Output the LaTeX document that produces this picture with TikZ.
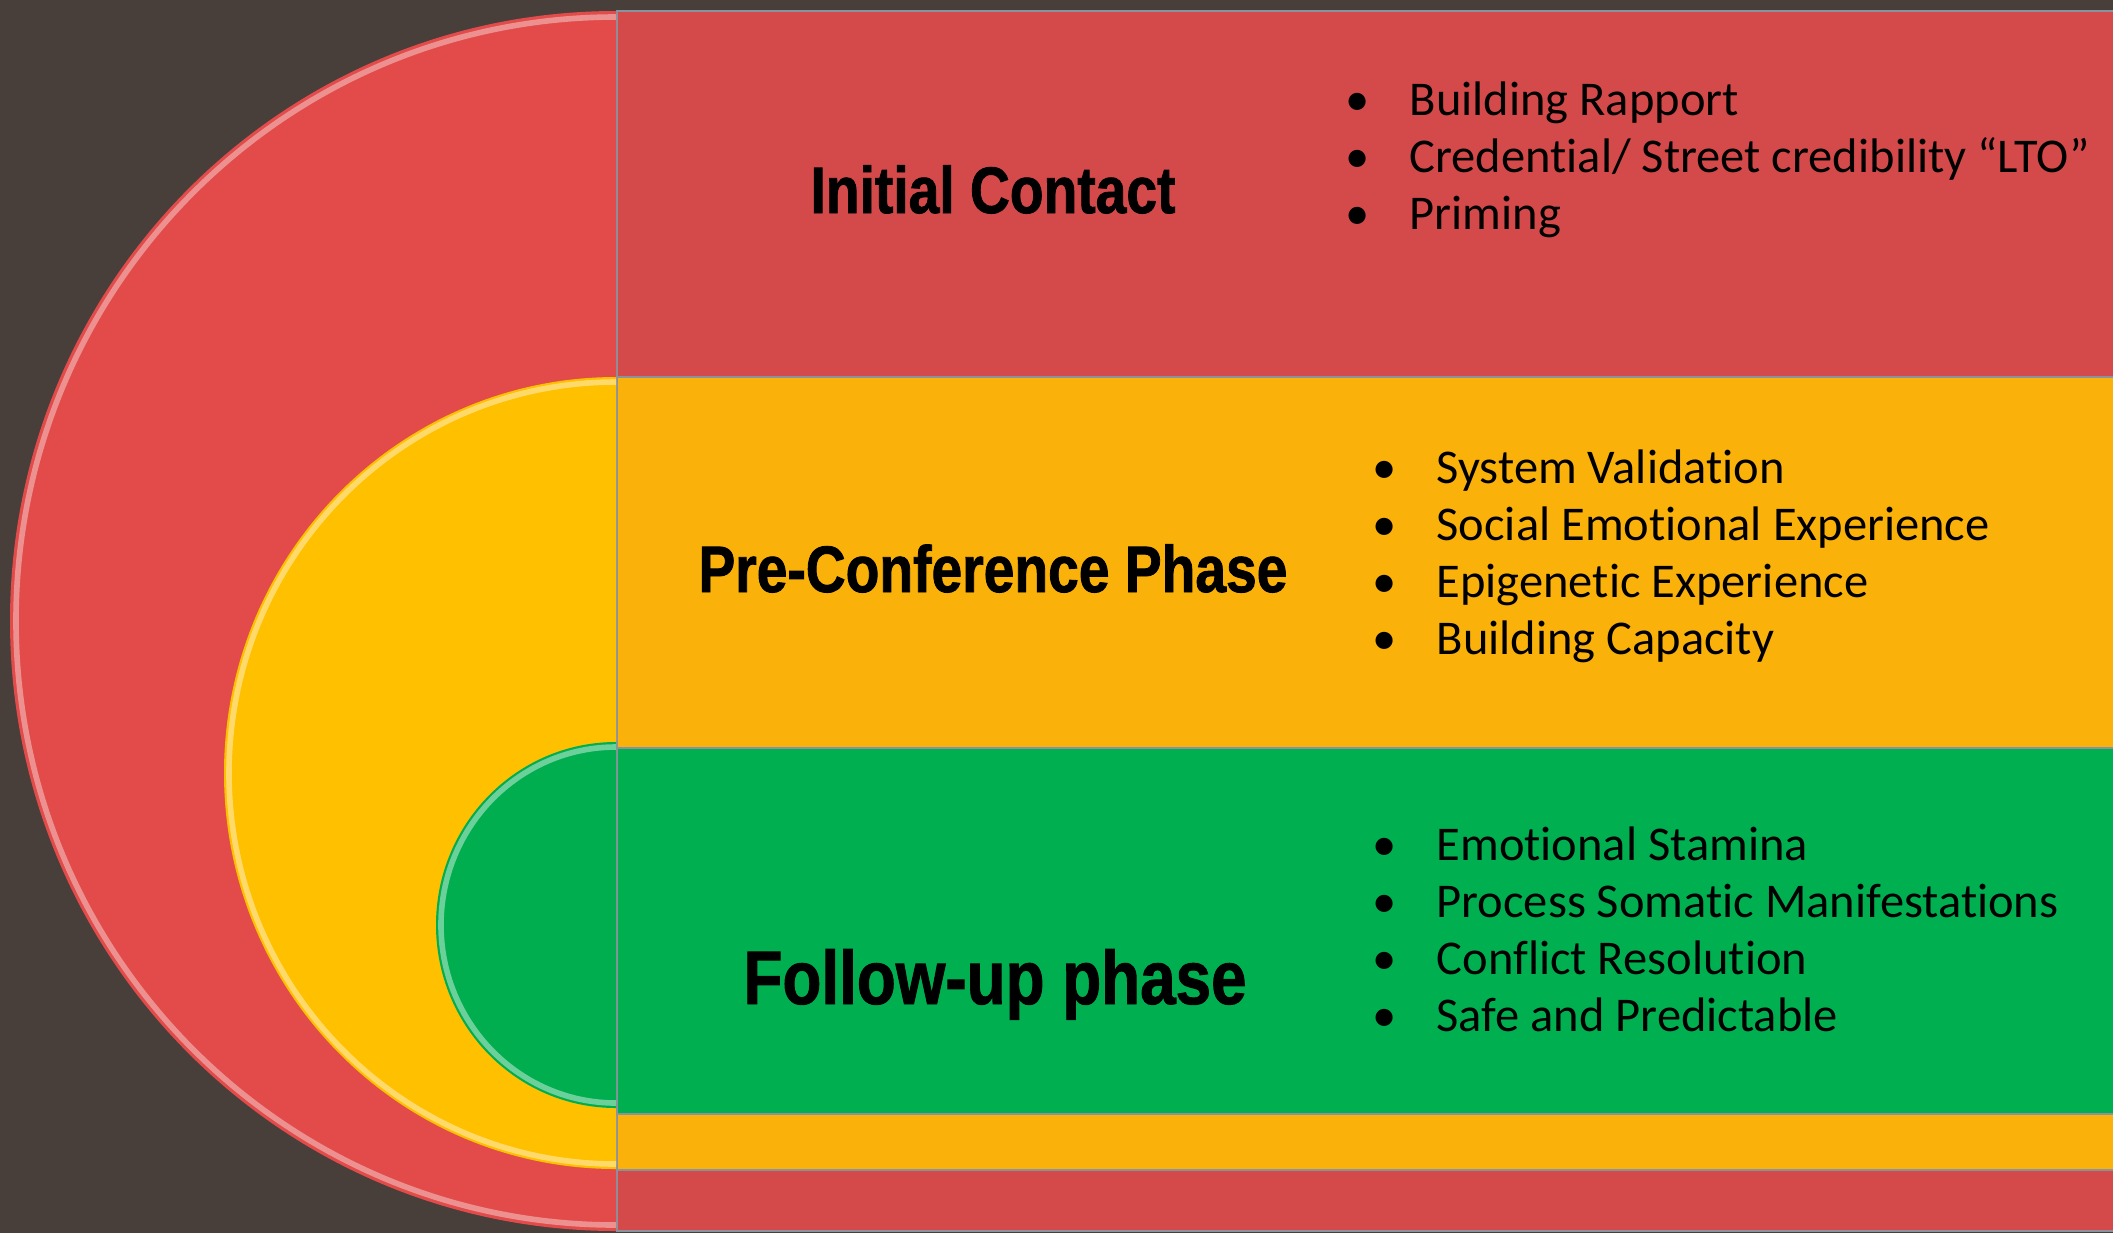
\documentclass[tikz,border=0pt]{standalone}
\usepackage{fontspec}
\setmainfont{Carlito}[Ligatures=NoCommon]
\newfontfamily\headfont[FakeStretch=0.84, FakeBold=1.2]{Liberation Sans}
\usepackage{tikz}
\definecolor{backdrop}{HTML}{483E3A}
\definecolor{contactarc}{HTML}{E24B4A}
\definecolor{contactband}{HTML}{D44A4A}
\definecolor{prearc}{HTML}{FFC000}
\definecolor{preband}{HTML}{FAB20B}
\definecolor{followarc}{HTML}{00AE4F}
\definecolor{followband}{HTML}{00AF50}
\definecolor{bandline}{HTML}{8C929D}
\newcommand{\bul}{\makebox[18.2pt][l]{\textbullet}}
\tikzset{band/.style={draw=bandline, line width=0.8pt}, glint/.style={line width=1.6pt, opacity=0.7},
	phasetitle/.style={anchor=base, inner sep=0pt, font=\headfont\bfseries\fontsize{18.7}{22}\selectfont},
	phaselist/.style={anchor=base west, inner sep=0pt, align=left, font=\fontsize{13.8}{16.3}\selectfont}}

\begin{document}
\begin{tikzpicture}[x=0.1mm, y=-0.1mm]
	\clip (0,0) rectangle (2113,1233);
	\fill[backdrop] (0,0) rectangle (2113,1233);
	\filldraw[band, fill=contactband] (617,11) rectangle (2125,1231);
	\fill[contactarc] (616,11) arc[start angle=-90, end angle=-270, x radius=606, y radius=610] -- cycle;
	\draw[glint, contactarc!45!white] (616,17) arc[start angle=-90, end angle=-270, x radius=600, y radius=604];
	\filldraw[band, fill=preband] (617,377) rectangle (2125,1170);
	\fill[prearc] (616,377) arc[start angle=-90, end angle=-270, x radius=392, y radius=396] -- cycle;
	\draw[glint, prearc!40!white] (616,382) arc[start angle=-90, end angle=-270, x radius=387, y radius=391];
	\filldraw[band, fill=followband] (617,748) rectangle (2125,1114);
	\fill[followarc] (616,742) arc[start angle=-90, end angle=-270, x radius=180, y radius=183] -- cycle;
	\draw[glint, followarc!40!white] (616,747) arc[start angle=-90, end angle=-270, x radius=175, y radius=178];
	\node[phasetitle] (initial contact) at (993,213) {Initial Contact};
	\node[phasetitle] (pre conference) at (993,592) {Pre-Conference Phase};
	\node[phasetitle, font=\headfont\bfseries\fontsize{21.6}{25}\selectfont] (follow up) at (995,1004) {Follow-up phase};
	\node[phaselist] (contact list) at (1345,115) {\begin{tabular}[t]{@{}l@{}}
		\bul Building Rapport\\
		\bul Credential/ Street credibility “LTO”\\
		\bul Priming\end{tabular}};
	\node[phaselist] (pre list) at (1372,483) {\begin{tabular}[t]{@{}l@{}}
		\bul System Validation\\
		\bul Social Emotional Experience\\
		\bul Epigenetic Experience\\
		\bul Building Capacity\end{tabular}};
	\node[phaselist] (follow list) at (1372,860) {\begin{tabular}[t]{@{}l@{}}
		\bul Emotional Stamina\\
		\bul Process Somatic Manifestations\\
		\bul Conflict Resolution\\
		\bul Safe and Predictable\end{tabular}};
\end{tikzpicture}
\end{document}
